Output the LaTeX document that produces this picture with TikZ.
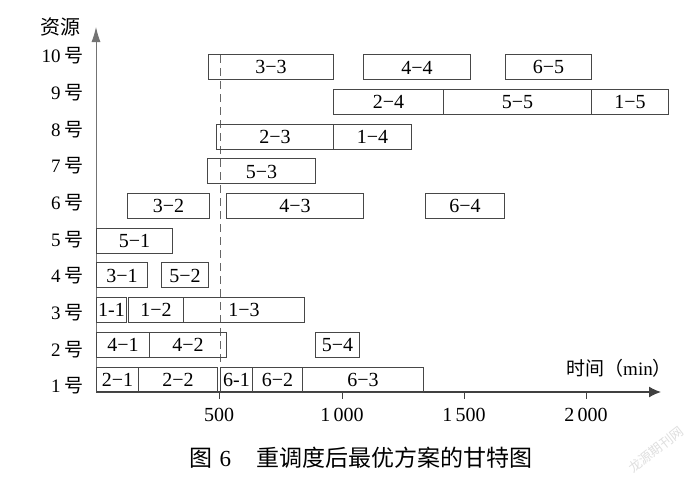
\documentclass[tikz,border=0pt]{standalone}
\usepackage{fontspec}
\setmainfont{Liberation Serif}
\newfontfamily\cjk{Noto Sans CJK SC}
\usetikzlibrary{arrows.meta}
\usetikzlibrary{positioning}

\tikzset{
  task/.style={draw=black!72, line width=1pt, inner sep=0pt, minimum height=25pt,
    anchor=west, font=\fontsize{20}{20}\selectfont},
  rowlabel/.style={anchor=east, inner sep=0pt, font=\fontsize{19}{19}\selectfont},
  ticklabel/.style={inner sep=0pt, font=\fontsize{20}{20}\selectfont},
  axislabel/.style={inner sep=0pt, font=\fontsize{19}{19}\selectfont},
}

\begin{document}
\begin{tikzpicture}[x=1pt, y=-1pt]
        \useasboundingbox (0,0) rectangle (700,488);
        % axes
        \coordinate (o) at (96,392);
        \coordinate (ytop) at (96,27);
        \coordinate (xend) at (661,392);
        \draw [black!55, line width=0.8pt, -{Latex[length=15pt,width=9pt]}] (o) -- (ytop);
        \draw [black!75, line width=1.3pt, -{Latex[length=12pt,width=11pt]}] (o) -- (xend);
        \node [axislabel, font=\fontsize{20}{20}\selectfont\cjk] (res) at (60,27) {资源};
        \node [axislabel] (time) at (619,368) {{\cjk 时间（}min{\cjk ）}};
        % ticks
        \foreach \x/\v in {219/500, 342/1\,000, 464/1\,500, 586/2\,000} {
            \draw [black!75, line width=0.9pt] (\x,392) -- (\x,399);
            \node [ticklabel] (tick\x) at (\x,415) {\v};
        }
        % rows
        \foreach \r in {1,...,10}
            \node [rowlabel] (row\r) at (84,{386-(\r-1)*36.67}) {\r\hspace{0.22em}{\cjk 号}};
        % rescheduling instant
        \coordinate (dtop) at (220,55);
        \coordinate (dbot) at (220,392);
        \draw [black!60, line width=0.9pt, dash pattern=on 8pt off 5pt] (dtop) -- (dbot);
        % tasks: row/start/end/label/name
        \foreach \r/\a/\b/\t/\n in {
            10/208/333/3−3/t33, 10/363/470/4−4/t44, 10/505/591/6−5/t65,
            9/333/443/2−4/t24, 9/443/591/5−5/t55, 9/591/668/1−5/t15,
            8/216/333/2−3/t23, 8/333/411/1−4/t14,
            7/207/315/5−3/t53,
            6/127/209/3−2/t32, 6/226/363/4−3/t43, 6/425/504/6−4/t64,
            5/96/172/5−1/t51,
            4/96/147/3−1/t31, 4/161/208/5−2/t52,
            3/96/126/1-1/t11, 3/128/183/1−2/t12, 3/183/304/1−3/t13,
            2/96/149/4−1/t41, 2/149/226/4−2/t42, 2/315/359/5−4/t54,
            1/96/138/2−1/t21, 1/138/217/2−2/t22, 1/220/252/6-1/t61,
            1/252/302/6−2/t62, 1/302/423/6−3/t63}
            \node [task, minimum width={(\b-\a)*1pt}] (\n) at (\a,{379.5-(\r-1)*34.67}) {\t};
        % caption
        \node [inner sep=0pt, font=\fontsize{23}{23}\selectfont] (cap) at (361,458)
            {{\cjk 图}\hspace{0.3em}6\hspace{1.1em}{\cjk 重调度后最优方案的甘特图}};
        \node [inner sep=0pt, rotate=38, text=black!13, font=\fontsize{13}{13}\selectfont\cjk]
            (mark) at (656,450) {龙源期刊网};
    \end{tikzpicture}
\end{document}
